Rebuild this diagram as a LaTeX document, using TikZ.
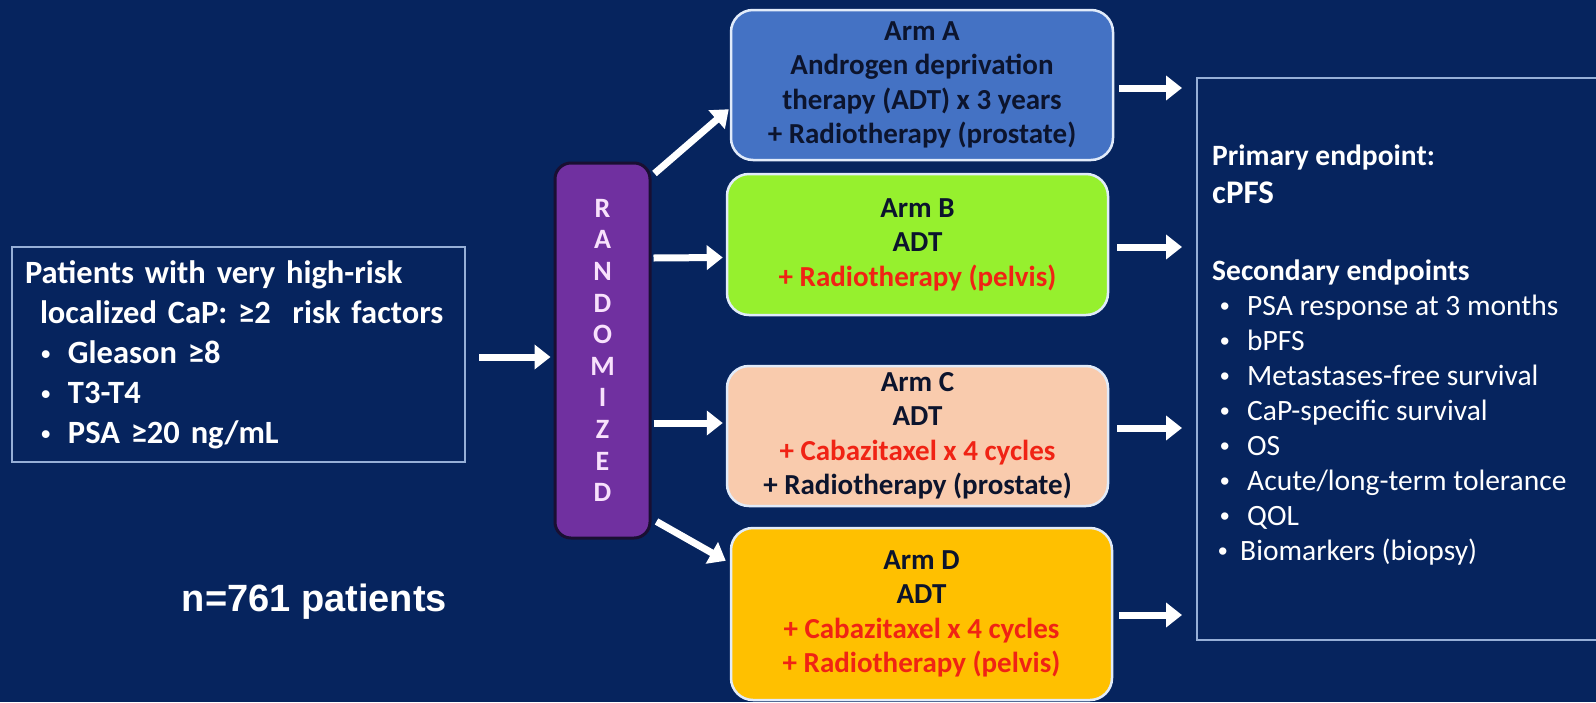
\documentclass[tikz,border=0pt]{standalone}
\usepackage{fontspec}
\setmainfont{Carlito}
\newfontfamily\arialfont{Liberation Sans}
\usetikzlibrary{arrows.meta,calc}
\definecolor{bg}{RGB}{6,36,94}
\definecolor{boxline}{RGB}{150,175,215}
\definecolor{armAfill}{RGB}{68,114,196}
\definecolor{armBfill}{RGB}{150,240,46}
\definecolor{armCfill}{RGB}{249,203,173}
\definecolor{armDfill}{RGB}{255,192,0}
\definecolor{armline}{RGB}{225,235,250}
\definecolor{armtext}{RGB}{12,20,45}
\definecolor{armred}{RGB}{240,35,20}
\definecolor{randfill}{RGB}{112,48,160}
\definecolor{randline}{RGB}{25,15,50}
\definecolor{randtext}{RGB}{248,225,252}
\newcommand{\mybul}[1]{\makebox[#1][l]{{\arialfont\fontsize{27}{27}\selectfont\char"2022}}}
\begin{document}
\begin{tikzpicture}[x=1pt,y=-1pt,
  frame/.style={draw=boxline, line width=2pt, inner sep=0pt},
  arm/.style={draw=armline, line width=2.5pt, rounded corners=22pt, align=center,
    inner sep=0pt, text=armtext, font=\fontsize{29}{34.5}\selectfont\bfseries},
  arr/.style={draw=white, line width=7pt, -{Triangle[width=24pt,length=16pt]}},
  txt/.style={text=white, inner sep=0pt}]
\useasboundingbox (0,0) rectangle (1596,702);
\fill[bg] (0,0) rectangle (1596,702);

% left box
\node[frame, minimum width=453pt, minimum height=215pt, text width=427pt, align=left,
  text=white, font=\fontsize{32.5}{40}\selectfont\bfseries] (pat) at (238.5,354.5)
  {Patients with very high-risk\\
   \hspace*{15pt}localized CaP: ≥2\ \ risk factors\\
   \hspace*{16pt}\mybul{27pt}Gleason ≥8\\
   \hspace*{16pt}\mybul{27pt}T3-T4\\
   \hspace*{16pt}\mybul{27pt}PSA ≥20 ng/mL};

% randomized
\node[draw=randline, fill=randfill, line width=3pt, rounded corners=16pt,
  minimum width=95pt, minimum height=375pt, inner sep=0pt, align=center,
  text=randtext, font=\fontsize{28}{31.6}\selectfont\bfseries] (rand) at (602.5,350.5)
  {R\\A\\N\\D\\O\\M\\I\\Z\\E\\D};

% arms
\node[arm, fill=armAfill, draw=armline, minimum width=382pt, minimum height=150pt] (armA) at (922,85)
  {Arm A\\Androgen deprivation\\therapy (ADT) x 3 years\\+ Radiotherapy (prostate)};
\node[arm, fill=armBfill, minimum width=381pt, minimum height=141pt] (armB) at (917.5,244.5)
  {Arm B\\ADT\\\textcolor{armred}{+ Radiotherapy (pelvis)}};
\node[arm, fill=armCfill, minimum width=381pt, minimum height=140pt] (armC) at (917.5,436)
  {Arm C\\ADT\\\textcolor{armred}{+ Cabazitaxel x 4 cycles}\\+ Radiotherapy (prostate)};
\node[arm, fill=armDfill, minimum width=381pt, minimum height=172pt] (armD) at (921.5,614)
  {Arm D\\ADT\\\textcolor{armred}{+ Cabazitaxel x 4 cycles}\\\textcolor{armred}{+ Radiotherapy (pelvis)}};

% endpoints box
\node[frame, minimum width=413pt, minimum height=562pt] (endp) at (1403.5,359) {};
\node[txt, anchor=north west, align=left, font=\fontsize{29.5}{35}\selectfont] (endt) at (1212,145)
  {\textbf{Primary endpoint:}\\[3pt]
   {\fontsize{33}{35}\selectfont\bfseries cPFS}\\[42pt]
   \textbf{Secondary endpoints}\\
   \hspace*{8pt}\mybul{27pt}PSA response at 3 months\\
   \hspace*{8pt}\mybul{27pt}bPFS\\
   \hspace*{8pt}\mybul{27pt}Metastases-free survival\\
   \hspace*{8pt}\mybul{27pt}CaP-specific survival\\
   \hspace*{8pt}\mybul{27pt}OS\\
   \hspace*{8pt}\mybul{27pt}Acute/long-term tolerance\\
   \hspace*{8pt}\mybul{27pt}QOL\\
   \hspace*{6pt}\mybul{22pt}Biomarkers (biopsy)};

% n patients
\node[txt, font=\arialfont\fontsize{38}{40}\selectfont\bfseries] (n) at (314.5,602) {n=761 patients};

% arrows
\draw[arr] ($(pat.east)+(13,2.5)$) -- ($(rand.west)+(-3,6.5)$);
\draw[arr] ($(rand.north east)+(3,12)$) -- ($(armA.south west)+(-1,-52)$);
\draw[arr] ($(rand.east)+(2,-92.5)$) -- ($(armB.west)+(-3,13)$);
\draw[arr] ($(rand.east)+(2,72.5)$) -- ($(armC.west)+(-3,-13)$);
\draw[arr] ($(rand.south east)+(5,-18)$) -- ($(armD.north west)+(-4,34)$);

\draw[arr] ($(armA.east)+(5,3)$) -- ($(armA.east -| endp.west)+(-14,3)$);
\draw[arr] ($(armB.east)+(8,2.5)$) -- ($(armB.east -| endp.west)+(-14,2.5)$);
\draw[arr] ($(armC.east)+(8,-8)$) -- ($(armC.east -| endp.west)+(-14,-8)$);
\draw[arr] ($(armD.east)+(6,1)$) -- ($(armD.east -| endp.west)+(-14,1)$);
\end{tikzpicture}
\end{document}
